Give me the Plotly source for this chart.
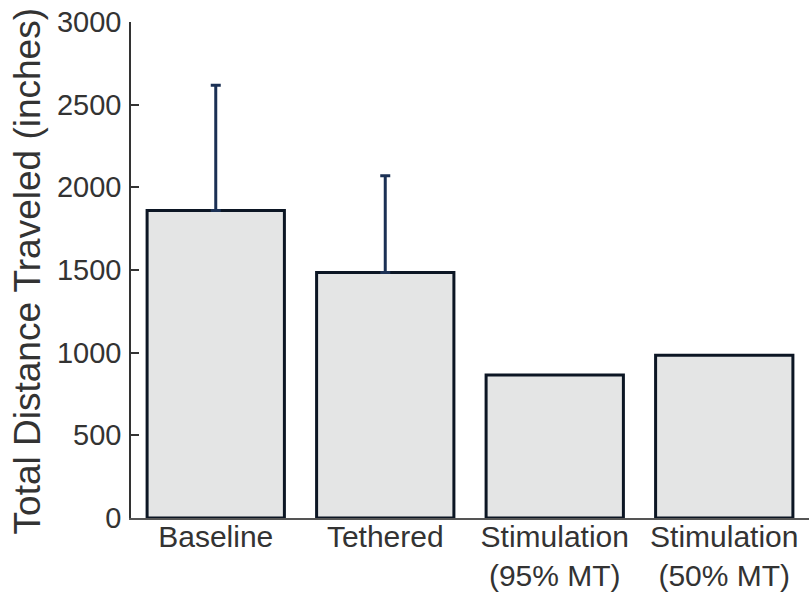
import plotly.graph_objects as go

categories = ["Baseline", "Tethered", "Stimulation<br>(95% MT)", "Stimulation<br>(50% MT)"]
values = [1860, 1485, 865, 985]
err_plus = [757, 585, 0, 0]
y_ticks = [0, 500, 1000, 1500, 2000, 2500, 3000]

FONT = "Liberation Sans, Arial, sans-serif"
TXT = "#333333"

fig = go.Figure()
marker = dict(color="#e4e5e5", line=dict(color="#0c1624", width=3))
with_err = [i for i, e in enumerate(err_plus) if e > 0]
no_err = [i for i, e in enumerate(err_plus) if e <= 0]

fig.add_trace(go.Bar(
    x=[categories[i] for i in with_err], y=[values[i] for i in with_err],
    marker=marker,
    error_y=dict(type="data", symmetric=False, array=[err_plus[i] for i in with_err],
                 arrayminus=[0] * len(with_err),
                 color="#1b3054", thickness=3, width=5, visible=True),
))
fig.add_trace(go.Bar(
    x=[categories[i] for i in no_err], y=[values[i] for i in no_err],
    marker=marker,
))

fig.update_layout(
    width=809, height=598,
    margin=dict(l=131, r=0, t=22, b=80, autoexpand=False),
    paper_bgcolor="white", plot_bgcolor="white",
    showlegend=False,
    barmode="overlay",
    bargap=0.19,
    font=dict(family=FONT, color=TXT),
    xaxis=dict(
        type="category", range=[-0.5, 3.5],
        categoryorder="array", categoryarray=categories,
        showline=True, linecolor="#555555", linewidth=1.5,
        ticks="", showgrid=False, zeroline=False,
        tickfont=dict(size=30, family=FONT, color=TXT),
        ticklabelstandoff=-9,
        automargin=False,
    ),
    yaxis=dict(
        range=[0, 3000], tickvals=y_ticks,
        showline=True, linecolor="#333333", linewidth=1.5,
        ticks="inside", ticklen=8, tickwidth=1.5, tickcolor="#333333",
        showgrid=False, zeroline=False,
        tickfont=dict(size=29, family=FONT, color=TXT),
        ticklabelstandoff=2,
        automargin=False,
    ),
    annotations=[dict(
        text="Total Distance Traveled (inches)", textangle=-90,
        xref="paper", yref="paper", x=-0.152, y=0.497,
        xanchor="center", yanchor="middle", showarrow=False,
        font=dict(size=37, family=FONT, color=TXT),
    )],
)

fig.write_html("out.html")
